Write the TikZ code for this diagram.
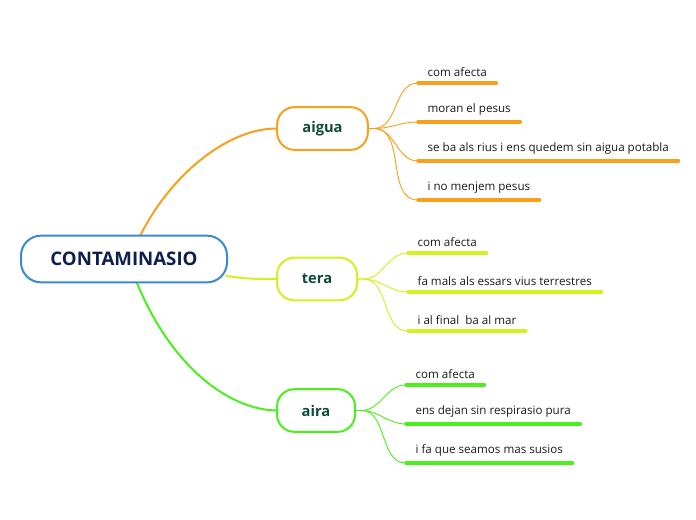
\documentclass[tikz,border=0pt]{standalone}
\usepackage{fontspec}
\setmainfont{Open Sans}
\usepackage{xcolor}
\usetikzlibrary{positioning, calc}
\definecolor{rootC}{HTML}{3A8AD0}
\definecolor{rootTxtC}{HTML}{0C1F4E}
\definecolor{nodeTxtC}{HTML}{0E4A3A}
\definecolor{aiguaC}{HTML}{F8A01C}
\definecolor{teraC}{HTML}{D2F21E}
\definecolor{airaC}{HTML}{4CEE1E}
\definecolor{leafTxtC}{HTML}{1A1A1A}

\tikzset{
  rootbox/.style={draw=rootC, line width=1.5pt, fill=white, rounded corners=15pt,
    minimum width=154.5pt, minimum height=35pt, text=rootTxtC,
    font=\fontsize{14}{16}\selectfont\bfseries},
  topicbox/.style={draw=#1, line width=1.5pt, fill=white, rounded corners=13pt,
    minimum height=32pt, text=nodeTxtC, font=\fontsize{11}{13}\selectfont\bfseries},
  leaf/.style={anchor=south west, inner xsep=7pt, inner ysep=4.5pt, text=leafTxtC,
    font=\fontsize{8.7}{10}\selectfont},
  rootlink/.style={draw=#1, line width=1.5pt},
  leaflink/.style={draw=#1, line width=0.7pt},
  underline/.style={draw=#1, line width=2.6pt}
}

\begin{document}
\begin{tikzpicture}[x=0.75pt, y=-0.75pt, line cap=round, line join=round]

\useasboundingbox (0,0) rectangle (696,520);

% Links from the centre
\draw[rootlink=aiguaC] (140,236) .. controls (172,172) and (230,128) .. (277,128.5);
\draw[rootlink=teraC] (226,276) .. controls (250,279) .. (277,279);
\draw[rootlink=airaC] (137,283) .. controls (172,368) and (230,410) .. (277,410.5);

% Central idea
\node[rootbox] (root) at (124,259) {CONTAMINASIO};

% Main topics
\node[topicbox=aiguaC, minimum width=68pt] (aigua) at (322.5,128.5) {aigua};
\node[topicbox=teraC, minimum width=60pt] (tera) at (317,279) {tera};
\node[topicbox=airaC, minimum width=58.5pt] (aira) at (316,410.5) {aira};

% Subtopics of aigua
\node[leaf] (ag1) at (418,83) {com afecta};
\node[leaf] (ag2) at (418,122) {moran el pesus};
\node[leaf] (ag3) at (418,161) {se ba als rius i ens quedem sin aigua potabla};
\node[leaf] (ag4) at (418,200) {i no menjem pesus};

% Subtopics of tera
\node[leaf] (te1) at (408,253) {com afecta};
\node[leaf] (te2) at (408,292) {fa mals als essars vius terrestres};
\node[leaf] (te3) at (408,331) {i al final\ \ ba al mar};

% Subtopics of aira
\node[leaf] (ai1) at (406,385) {com afecta};
\node[leaf] (ai2) at (406,424) {ens dejan sin respirasio pura};
\node[leaf] (ai3) at (406,463) {i fa que seamos mas susios};

% Underlines and links
\foreach \P/\Q/\C in {aigua/ag1/aiguaC, aigua/ag2/aiguaC, aigua/ag3/aiguaC, aigua/ag4/aiguaC,
                      tera/te1/teraC, tera/te2/teraC, tera/te3/teraC,
                      aira/ai1/airaC, aira/ai2/airaC, aira/ai3/airaC}{
  \draw[underline=\C] (\Q.south west) -- (\Q.south east);
  \draw[leaflink=\C] (\P.east) -- ++(5,0) to[out=0, in=180] (\Q.south west);
}

\end{tikzpicture}
\end{document}
